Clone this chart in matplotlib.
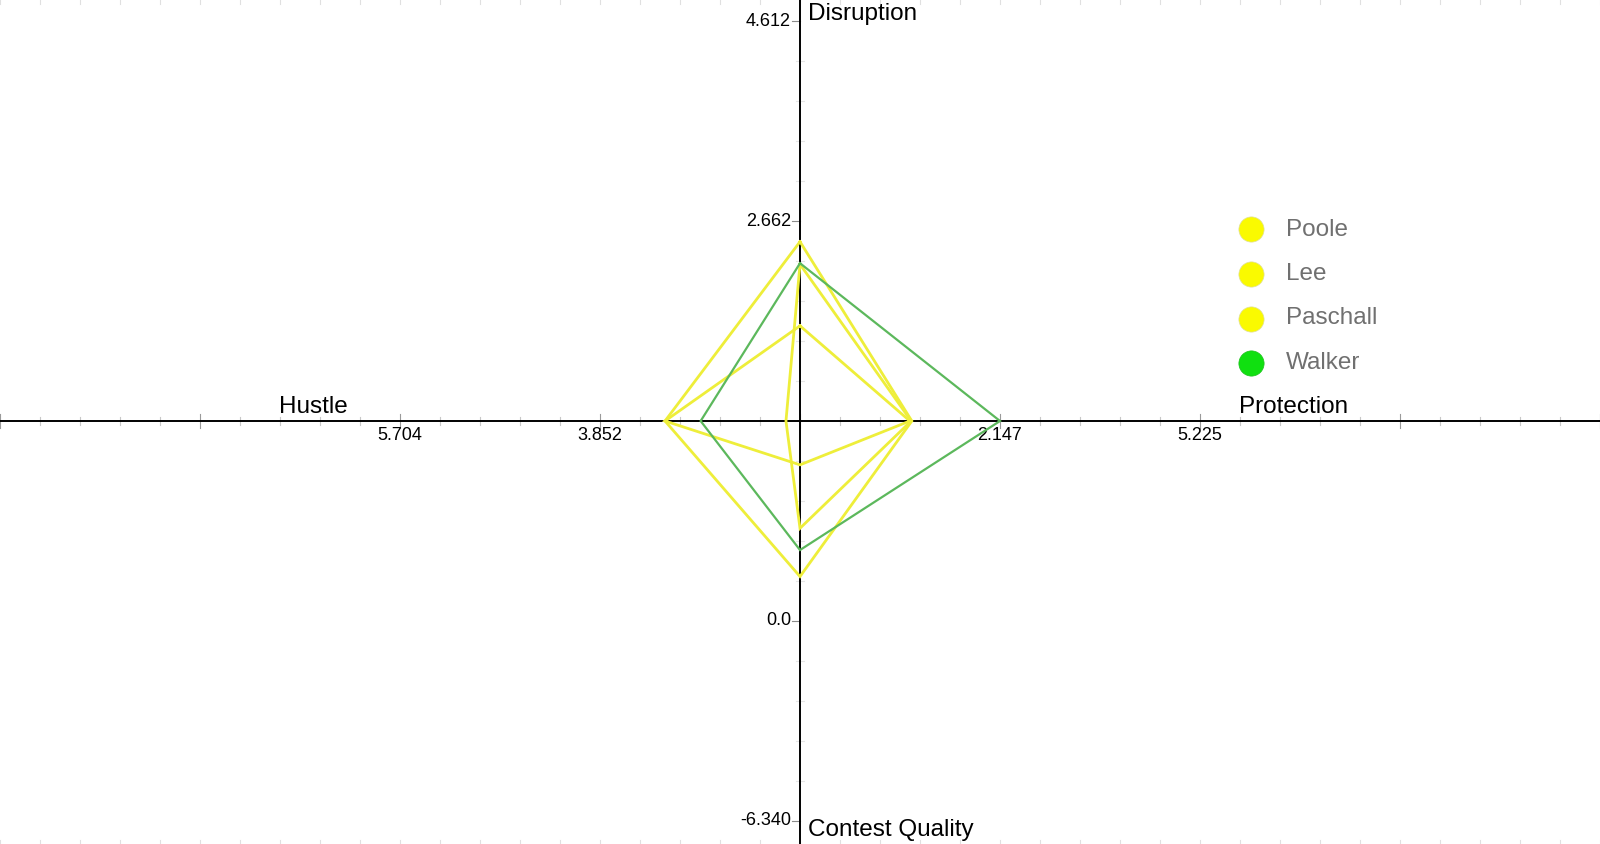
import matplotlib.pyplot as plt
import numpy as np

# four arms of the chart, each with its own printed scale
arm_names = ['Disruption', 'Protection', 'Contest Quality', 'Hustle']
disruption_ticks = [2.662, 4.612]
protection_ticks = [2.147, 5.225]
contest_ticks = [0.0, -6.340]
hustle_ticks = [3.852, 5.704]

players = ['Poole', 'Lee', 'Paschall', 'Walker']
disruption = [2.46, 1.64, 2.24, 2.25]
protection = [0.79, 0.76, 0.78, 2.147]
contest_quality = [1.41, 4.95, 2.94, 2.25]
hustle = [3.25, 3.25, 2.13, 2.92]

line_colors = ['#eeee3a', '#eeee3a', '#eeee3a', '#5cb85c']
dot_colors = ['#fafa00', '#fafa00', '#fafa00', '#10e010']

plt.rcParams['font.family'] = ['Liberation Sans', 'DejaVu Sans']

W, H = 1600, 844
CX, CY = 800, 421      # centre of the cross in pixels (from top-left)
STEP = 200.0           # pixels per grid step


def arm(v, ticks):
    # distance from centre (in grid steps) for value v on one arm
    return 1 + (v - ticks[0]) / (ticks[1] - ticks[0])


fig = plt.figure(figsize=(W / 100, H / 100), dpi=100)
ax = fig.add_axes([0, 0, 1, 1])
ax.set_xlim(-CX / STEP, (W - CX) / STEP)
ax.set_ylim(-(H - CY) / STEP, CY / STEP)
ax.axis('off')
px = 1 / STEP

# main cross
ax.axhline(0, color='black', lw=1.4, zorder=2)
ax.axvline(0, color='black', lw=1.4, zorder=2)

# tick marks
xt = np.arange(-4, 4.01, 0.2)
for x in xt:
    major = abs(x - round(x)) < 1e-6
    h = (7 if major else 4) * px
    ax.plot([x, x], [-h, h], color='#9a9a9a' if major else '#c8c8c8', lw=0.8, zorder=1)
    # faint frame ticks along the top and bottom edges
    ax.plot([x, x], [CY / STEP, CY / STEP - 4 * px], color='#e0e0e0', lw=0.8, zorder=1)
    ax.plot([x, x], [-(H - CY) / STEP, -(H - CY) / STEP + 4 * px], color='#e0e0e0', lw=0.8, zorder=1)
for y in np.arange(-2.2, 2.21, 0.2):
    major = abs(y - round(y)) < 1e-6
    if abs(y) < 1e-6:
        continue
    if major:
        ax.plot([-8 * px, 0], [y, y], color='#8a8a8a', lw=0.8, zorder=1)
    else:
        ax.plot([-4 * px, 4 * px], [y, y], color='#e6e6e6', lw=0.8, zorder=1)

# tick labels
tfs = 13
for i, t in enumerate(disruption_ticks):
    ax.text(-9 * px, i + 1, f'{t:.3f}', ha='right', va='center', fontsize=tfs)
for i, t in enumerate(contest_ticks):
    lab = f'{t:.1f}' if t == 0 else f'{t:.3f}'
    ax.text(-9 * px, -(i + 1), lab, ha='right', va='center', fontsize=tfs)
for i, t in enumerate(protection_ticks):
    ax.text(i + 1, -6 * px, f'{t:.3f}', ha='center', va='top', fontsize=tfs)
for i, t in enumerate(hustle_ticks):
    ax.text(-(i + 1), -6 * px, f'{t:.3f}', ha='center', va='top', fontsize=tfs)

# arm names
nfs = 17.5
ax.text(8 * px, (CY - 14) / STEP, arm_names[0], ha='left', va='center', fontsize=nfs)
ax.text((1239 - CX) / STEP, 3 * px, arm_names[1], ha='left', va='bottom', fontsize=nfs)
ax.text(8 * px, (CY - 830) / STEP, arm_names[2], ha='left', va='center', fontsize=nfs)
ax.text((313 - CX) / STEP, 3 * px, arm_names[3], ha='center', va='bottom', fontsize=nfs)

# player polygons
for i, name in enumerate(players):
    d = arm(disruption[i], disruption_ticks)
    p = arm(protection[i], protection_ticks)
    c = arm(contest_quality[i], contest_ticks)
    h = arm(hustle[i], hustle_ticks)
    xs = [0, p, 0, -h, 0]
    ys = [d, 0, -c, 0, d]
    lw = 1.6 if name == 'Walker' else 2.0
    ax.plot(xs, ys, color=line_colors[i], lw=lw, solid_joinstyle='miter', zorder=3)

# legend
for i, name in enumerate(players):
    ly = (CY - 229.5 - i * 44.5) / STEP
    ax.scatter([(1251 - CX) / STEP], [ly], s=330, color=dot_colors[i],
               edgecolors='#e0e0a0' if i < 3 else '#20c020', linewidths=0.5, zorder=4)
    ax.text((1286 - CX) / STEP, ly, name, ha='left', va='center',
            fontsize=17.5, color='#707070')

fig.savefig('out.png', dpi=100)
